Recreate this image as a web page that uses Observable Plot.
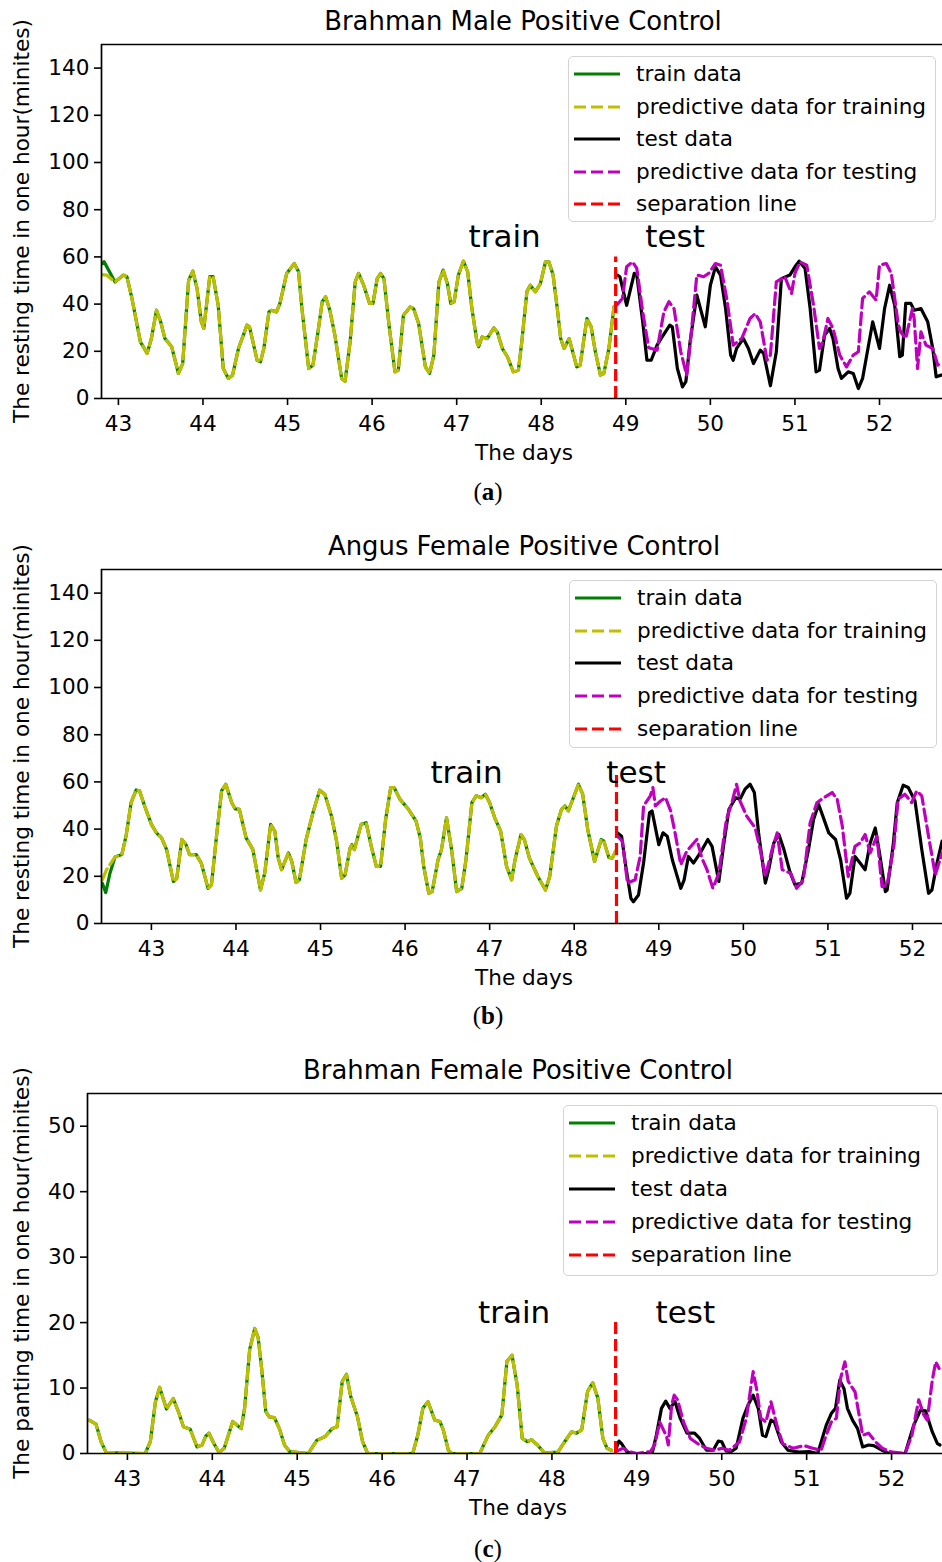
<!DOCTYPE html>
<html><head><meta charset="utf-8">
<script src="https://cdn.jsdelivr.net/npm/d3@7"></script>
<script src="https://cdn.jsdelivr.net/npm/@observablehq/plot@0.6"></script>
<style>
body{margin:0;background:#fff;}
#root{position:relative;width:942px;height:1562px;overflow:hidden;font-family:"DejaVu Sans",sans-serif;color:#000;background:#fff;}
.abs{position:absolute;white-space:nowrap;transform:translate(-50%,-50%);line-height:1;}
.title{font-size:25.9px;}
.xlab{font-size:21.6px;}
.ylab{font-size:21.6px;transform:translate(-50%,-50%) rotate(-90deg);}
.cap{font-family:"Liberation Serif",serif;font-size:25px;}
.legend{position:absolute;border:1.6px solid #d4d4d4;border-radius:5px;background:rgba(255,255,255,0.8);box-sizing:border-box;}
.row{position:absolute;left:0;white-space:nowrap;font-size:21.6px;line-height:1;}
.row svg{position:absolute;left:5px;top:-3px;overflow:visible;}
.row span{position:absolute;left:67px;top:0;transform:translateY(-50%);}
</style>
</head><body><div id="root"></div>
<script>
// ---------- Panel (a): Brahman Male Positive Control ----------
const aTrain = [[42.80,57],[42.83,58],[42.96,49.4],[43.06,52.3],[43.10,51.6],[43.16,42.4],[43.26,24],[43.34,19.1],[43.39,25.4],[43.45,37.4],[43.50,32.5],[43.55,25.4],[43.63,21.9],[43.71,10.6],[43.76,14.8],[43.83,50.1],[43.88,54],[43.93,46.6],[43.98,32.5],[44.01,29.7],[44.08,51.6],[44.12,51.6],[44.18,39.5],[44.24,12.7],[44.30,8.5],[44.35,9.9],[44.42,21.2],[44.52,31.1],[44.55,30.4],[44.64,16.2],[44.68,15.5],[44.72,21.2],[44.78,36.7],[44.81,37.4],[44.87,36.7],[44.91,40.3],[44.99,53],[45.08,57.2],[45.13,53.7],[45.17,38.1],[45.25,12.7],[45.30,14.1],[45.36,28.2],[45.41,41],[45.45,43.1],[45.50,37.4],[45.56,26.8],[45.64,8.5],[45.68,7.3],[45.74,24],[45.80,49.4],[45.84,53],[45.90,48],[45.97,40.3],[46.01,40.3],[46.06,50.8],[46.10,53],[46.14,50.8],[46.20,31.1],[46.27,11.3],[46.31,12],[46.37,35.3],[46.45,38.8],[46.49,38.1],[46.55,31.8],[46.63,13.4],[46.68,10.6],[46.73,18.4],[46.79,49.4],[46.84,54.4],[46.89,48.7],[46.93,40.3],[46.97,41],[47.02,52.3],[47.08,58.2],[47.13,53.7],[47.18,38.1],[47.24,24],[47.26,21.9],[47.30,26.1],[47.36,25.4],[47.44,29.9],[47.48,28.2],[47.54,21.2],[47.60,17.7],[47.67,11.3],[47.73,12],[47.77,24],[47.83,45.2],[47.87,48],[47.93,45.2],[47.99,48.7],[48.05,57.9],[48.09,57.9],[48.14,52.3],[48.19,38.1],[48.23,25.4],[48.27,21.2],[48.33,25.4],[48.42,13.4],[48.46,14.1],[48.54,33.9],[48.59,30.4],[48.64,19.8],[48.70,9.9],[48.74,10.6],[48.80,21.2],[48.86,38.8]];
const aPredTrainStart = [[42.80,52.5],[42.86,52.3]];
const aTest = [[48.90,52.3],[48.93,51.6],[49.01,39.5],[49.10,53],[49.13,52.3],[49.20,32.5],[49.25,16.2],[49.30,16.2],[49.37,22.6],[49.43,26.1],[49.52,31.1],[49.55,30.4],[49.61,12.7],[49.67,4.9],[49.71,7.1],[49.76,24],[49.84,43.8],[49.94,30.4],[50.00,48],[50.06,55.8],[50.12,52.3],[50.18,38.1],[50.24,18.4],[50.27,16.2],[50.31,21.2],[50.39,25.4],[50.45,21.2],[50.51,14.8],[50.59,20.5],[50.63,19.1],[50.71,5.4],[50.78,19.8],[50.84,50.8],[50.94,52.3],[51.00,55.8],[51.05,58.2],[51.12,55.1],[51.18,38.1],[51.25,11.3],[51.29,12],[51.35,26.8],[51.41,29.7],[51.45,25.4],[51.51,12.7],[51.55,8.5],[51.63,11.3],[51.69,10.6],[51.75,4.2],[51.80,8.5],[51.92,32.5],[52.00,21.2],[52.06,38.1],[52.12,48],[52.18,39.5],[52.24,17.7],[52.27,18.4],[52.31,40.3],[52.37,40.3],[52.41,37.4],[52.49,38.1],[52.57,32.5],[52.63,21.2],[52.67,9.2],[52.73,9.9]];
const aPredTest = [[48.89,39.5],[48.96,42.4],[49.01,55.8],[49.08,57.9],[49.13,55.1],[49.20,36.7],[49.27,21.5],[49.37,20.5],[49.45,36.7],[49.51,41],[49.57,38.1],[49.65,19.8],[49.72,9.9],[49.76,22.6],[49.84,52.3],[49.92,51.6],[49.98,53],[50.06,57.2],[50.12,56.5],[50.20,41],[50.27,22.6],[50.37,25.4],[50.47,33.9],[50.53,36],[50.59,32.5],[50.67,16.2],[50.71,18.4],[50.78,49.4],[50.88,51.6],[50.96,44.5],[51.00,53],[51.06,57.9],[51.14,56.5],[51.22,39.5],[51.29,21.2],[51.33,24],[51.39,33.9],[51.45,29.7],[51.53,18.4],[51.61,13.4],[51.69,18.4],[51.75,19.8],[51.80,42.4],[51.88,45.2],[51.96,41.7],[52.00,56.5],[52.08,57.2],[52.14,53],[52.22,31.8],[52.25,28.2],[52.31,25.4],[52.39,38.1],[52.41,33.9],[52.45,12.7],[52.49,28.2],[52.55,22.6],[52.63,21.2],[52.69,14.1],[52.73,15.5]];
const aSep = [{x:48.88, y1:0, y2:60}];
const aNotes = [{t:"train", x:47.14, y:64}, {t:"test", x:49.23, y:64}];
const aYTicks = [0,20,40,60,80,100,120,140];

// ---------- Panel (b): Angus Female Positive Control ----------
const bTrain = [[42.42,17],[42.46,13.1],[42.51,21.3],[42.57,28.2],[42.65,29.2],[42.70,37],[42.76,51.2],[42.82,56.6],[42.86,56.2],[42.92,49.8],[43.00,42],[43.06,38.4],[43.12,36.3],[43.18,31.3],[43.26,17.8],[43.30,19.2],[43.36,35.6],[43.41,33.4],[43.45,29.2],[43.53,29.2],[43.59,25.6],[43.67,14.9],[43.71,16.4],[43.77,37],[43.83,56.2],[43.88,59],[43.95,51.2],[43.99,48.6],[44.04,48.4],[44.12,36.3],[44.20,31.3],[44.29,14.2],[44.34,21.3],[44.41,42],[44.46,39.1],[44.50,27.7],[44.54,22.8],[44.62,29.9],[44.66,26.3],[44.71,17.4],[44.75,18.5],[44.83,35.6],[44.91,46.9],[44.99,56.5],[45.05,54.8],[45.13,45.5],[45.19,34.9],[45.25,19.2],[45.29,20.6],[45.35,32],[45.37,33.4],[45.40,31.3],[45.48,42],[45.54,42.7],[45.60,32.7],[45.66,24.2],[45.71,24.2],[45.77,44.1],[45.83,57.6],[45.87,57.6],[45.94,52.6],[46.04,48.4],[46.13,43.4],[46.18,36.3],[46.22,24.2],[46.28,12.8],[46.32,13.5],[46.39,27],[46.43,31.3],[46.49,44.8],[46.55,31.3],[46.61,13.5],[46.67,14.9],[46.72,27],[46.79,51.2],[46.84,54.1],[46.90,53.3],[46.95,54.8],[47.00,51.2],[47.06,44.8],[47.13,39.1],[47.20,24.2],[47.26,18.5],[47.30,27],[47.37,37.7],[47.41,35.6],[47.47,27.7],[47.57,19.9],[47.66,14.2],[47.71,19.9],[47.79,41.3],[47.85,48.4],[47.89,49.8],[47.93,47.7],[47.99,53.3],[48.05,59],[48.10,54.8],[48.16,39.8],[48.24,26.3],[48.32,35.6],[48.35,34.9],[48.41,28],[48.45,27.7],[48.49,30.6]];
const bPredTrainStart = [[42.42,18.5],[42.47,22.8]];
const bTest = [[48.51,38.4],[48.56,37],[48.61,24.2],[48.67,10.7],[48.70,9.2],[48.76,12.1],[48.82,25.6],[48.89,46.9],[48.92,47.7],[49.00,33.4],[49.05,38.4],[49.10,37],[49.16,27],[49.26,14.9],[49.30,18.5],[49.35,28.4],[49.41,25.6],[49.49,29.9],[49.58,35.6],[49.63,32.7],[49.71,17.8],[49.77,34.1],[49.83,48.4],[49.91,53.3],[49.96,52.6],[50.02,56.9],[50.08,59],[50.13,55.5],[50.18,38.4],[50.26,17.1],[50.30,22.8],[50.36,34.1],[50.42,37.7],[50.48,31.3],[50.55,22],[50.61,16.4],[50.69,17.1],[50.77,31.3],[50.83,44.1],[50.89,50.5],[50.94,45.5],[51.01,38.4],[51.09,35.6],[51.15,27],[51.22,10.7],[51.26,12.8],[51.32,28.4],[51.38,25.6],[51.44,22.8],[51.50,34.1],[51.56,40.5],[51.61,29.9],[51.68,13.5],[51.70,14.2],[51.77,32.7],[51.82,51.2],[51.89,58.6],[51.95,57.6],[52.03,51.9],[52.11,31.3],[52.19,12.8],[52.23,14.2],[52.29,25.6],[52.35,34.9]];
const bPredTest = [[48.51,37],[48.57,34.9],[48.63,17.1],[48.72,18.5],[48.78,28.4],[48.82,49.8],[48.90,54.1],[48.93,57.6],[48.96,49.8],[49.02,51.9],[49.08,53.3],[49.14,47.7],[49.20,37],[49.26,24.9],[49.33,30.6],[49.45,35.6],[49.51,27.7],[49.57,22.8],[49.64,14.9],[49.71,21.3],[49.80,44.1],[49.87,51.9],[49.92,59],[49.96,51.9],[50.04,45.5],[50.14,40.5],[50.20,31.3],[50.26,19.9],[50.34,31.3],[50.40,38.4],[50.46,22.8],[50.56,21.3],[50.63,14.9],[50.71,18.5],[50.79,42.7],[50.87,51.2],[50.95,53.3],[51.05,55.5],[51.11,52.6],[51.17,41.3],[51.24,19.9],[51.32,32.7],[51.38,34.1],[51.44,37.7],[51.50,29.9],[51.58,37],[51.64,15.6],[51.70,16.4],[51.78,32.7],[51.83,52.6],[51.91,54.8],[51.99,51.2],[52.05,56.2],[52.11,54.1],[52.19,37],[52.27,20.6],[52.35,29.9]];
const bSep = [{x:48.50, y1:0, y2:64}];
const bNotes = [{t:"train", x:46.30, y:59.5}, {t:"test", x:48.38, y:59.5}];
const bYTicks = [0,20,40,60,80,100,120,140];

// ---------- Panel (c): Brahman Female Positive Control ----------
const cTrain = [[42.55,5.1],[42.63,4.5],[42.69,1.8],[42.75,0.15],[43.21,0],[43.27,1.8],[43.33,7.9],[43.38,10.1],[43.46,6.8],[43.54,8.4],[43.60,6.4],[43.66,4.1],[43.74,3.7],[43.82,1],[43.88,1.3],[43.92,2.6],[43.96,3.1],[44.02,1.5],[44.08,0.15],[44.14,0.8],[44.24,4.9],[44.34,3.8],[44.38,6.9],[44.44,15.9],[44.50,19.1],[44.54,17.7],[44.58,13.1],[44.63,6.4],[44.67,5.6],[44.73,5.5],[44.79,3.8],[44.85,1.3],[44.91,0.3],[45.13,0],[45.23,2],[45.33,2.6],[45.41,3.8],[45.47,4.1],[45.53,11],[45.58,12.1],[45.63,8.7],[45.71,5.6],[45.77,1.8],[45.83,0],[46.36,0],[46.42,2.8],[46.48,6.9],[46.54,7.9],[46.62,5.1],[46.68,4.9],[46.72,3.6],[46.78,0.5],[46.82,0],[47.15,0],[47.25,2.8],[47.33,4.1],[47.41,5.9],[47.47,14.1],[47.53,15],[47.59,10.5],[47.65,2.3],[47.71,1.8],[47.76,2.1],[47.83,1.3],[47.91,0.1],[48.07,0.2],[48.15,1.8],[48.23,3.3],[48.29,3.1],[48.35,3.6],[48.42,9.5],[48.48,10.8],[48.54,8.5],[48.60,2.3],[48.65,0.8],[48.70,0.5]];
const cTest = [[48.75,0.5],[48.79,1.9],[48.82,1.5],[48.88,0.3],[48.94,0],[49.18,0],[49.23,2.8],[49.29,6.9],[49.34,8],[49.39,6.9],[49.45,7.9],[49.51,5.4],[49.59,3.1],[49.68,3.1],[49.74,2.3],[49.82,0.5],[49.90,0.5],[49.96,1.9],[50.00,1.8],[50.05,0.4],[50.11,0.3],[50.17,0.8],[50.25,5.4],[50.31,7.4],[50.37,8.9],[50.43,6.9],[50.48,2.8],[50.52,2.6],[50.58,5.1],[50.62,4.8],[50.70,1.8],[50.78,0.5],[50.91,0.2],[51.03,0.3],[51.13,0],[51.23,4.3],[51.29,6.1],[51.34,6.9],[51.39,11.2],[51.44,9.9],[51.48,6.9],[51.54,5.1],[51.60,3.8],[51.66,1],[51.73,1.3],[51.79,1.2],[51.89,0.5],[51.97,0],[52.16,0],[52.26,4.3],[52.34,6.6],[52.40,6.5],[52.48,3.3],[52.54,1.5],[52.57,1.3]];
const cPredTest = [[48.75,0.3],[48.84,0.8],[48.90,0.3],[49.00,0],[49.16,0.3],[49.21,1.3],[49.27,4.8],[49.35,2.6],[49.37,1.3],[49.41,7.4],[49.44,8.9],[49.48,8.2],[49.55,4.8],[49.63,2.3],[49.74,1.3],[49.82,0.8],[49.92,0.5],[50.00,0.8],[50.09,0.5],[50.21,1.8],[50.29,5.4],[50.34,9.9],[50.37,12.5],[50.41,9.9],[50.46,5.4],[50.52,4.8],[50.58,7.9],[50.66,3.8],[50.72,1.5],[50.84,0.8],[50.97,1.2],[51.07,0.8],[51.17,0.5],[51.23,2.8],[51.29,4.8],[51.35,5.4],[51.40,11.5],[51.45,14],[51.49,11],[51.57,9.4],[51.66,2.8],[51.73,3.1],[51.81,1.8],[51.89,0.8],[52.01,0.2],[52.16,0],[52.24,2.8],[52.32,8.2],[52.38,5.9],[52.42,5.1],[52.48,11.2],[52.52,14],[52.56,13]];
const cSep = [{x:48.75, y1:0, y2:20}];
const cNotes = [{t:"train", x:47.13, y:20}, {t:"test", x:49.22, y:20}];
const cYTicks = [0,10,20,30,40,50];

const xTicks = [43,44,45,46,47,48,49,50,51,52];
const legendLabels = ["train data","predictive data for training","test data","predictive data for testing","separation line"];

// the predicted training curves coincide with the training data after the first points
const aPredTrain = aPredTrainStart.concat(aTrain.slice(2));
const bPredTrain = bPredTrainStart.concat(bTrain.slice(3));
const cPredTrain = cTrain;

const panels = [
  {title:"Brahman Male Positive Control", ylabel:"The resting time in one hour(minites)", cap:"a",
   train:aTrain, predTrain:aPredTrain, test:aTest, predTest:aPredTest, sep:aSep, notes:aNotes,
   xDomain:[42.80,52.745], yDomain:[0,150], yTicks:aYTicks, ml:101, plotTop:44, plotH:354,
   titleXY:[523,22], xlabXY:[524,453], ylabXY:[22,221], capXY:[488,491],
   legend:{left:568,top:56,w:368,h:166,gap:32.5}},
  {title:"Angus Female Positive Control", ylabel:"The resting time in one hour(minites)", cap:"b",
   train:bTrain, predTrain:bPredTrain, test:bTest, predTest:bPredTest, sep:bSep, notes:bNotes,
   xDomain:[42.41,52.355], yDomain:[0,150], yTicks:bYTicks, ml:101, plotTop:569, plotH:354,
   titleXY:[524,547], xlabXY:[524,978], ylabXY:[22,746], capXY:[488,1015],
   legend:{left:569,top:580,w:368,h:168,gap:32.7}},
  {title:"Brahman Female Positive Control", ylabel:"The panting time in one hour(minites)", cap:"c",
   train:cTrain, predTrain:cPredTrain, test:cTest, predTest:cPredTest, sep:cSep, notes:cNotes,
   xDomain:[42.53,52.6], yDomain:[0,55], yTicks:cYTicks, ml:87, plotTop:1093, plotH:360,
   titleXY:[518,1071], xlabXY:[518,1508], ylabXY:[22,1273], capXY:[488,1548],
   legend:{left:563,top:1105,w:375,h:171,gap:33}}
];

const root = document.getElementById("root");
const LW = 3.2, DASH = "12,5";
const legendStyles = [
  {stroke:"#008000", dash:null},
  {stroke:"#bfbf00", dash:DASH},
  {stroke:"#000000", dash:null},
  {stroke:"#bf00bf", dash:DASH},
  {stroke:"#ff0000", dash:DASH}
];

function addText(cls, xy, html){
  const d = document.createElement("div");
  d.className = "abs " + cls;
  d.style.left = xy[0] + "px";
  d.style.top = xy[1] + "px";
  d.innerHTML = html;
  root.appendChild(d);
}

const px = d => d[0], py = d => d[1];
const MT = 6, MB = 50;

for (const p of panels) {
  const chart = Plot.plot({
    width: 942,
    height: p.plotH + MT + MB,
    marginTop: MT, marginBottom: MB, marginLeft: p.ml, marginRight: 0,
    x: {domain: p.xDomain},
    y: {domain: p.yDomain},
    style: {fontFamily: "DejaVu Sans", fontSize: "21.6px", color: "#000", background: "transparent", overflow: "visible"},
    marks: [
      Plot.line(p.train, {x: px, y: py, stroke: "#008000", strokeWidth: LW, clip: true}),
      Plot.line(p.predTrain, {x: px, y: py, stroke: "#bfbf00", strokeWidth: LW, strokeDasharray: DASH, clip: true}),
      Plot.line(p.test, {x: px, y: py, stroke: "#000000", strokeWidth: LW, clip: true}),
      Plot.line(p.predTest, {x: px, y: py, stroke: "#bf00bf", strokeWidth: LW, strokeDasharray: DASH, clip: true}),
      Plot.ruleX(p.sep, {x: "x", y1: "y1", y2: "y2", stroke: "#ff0000", strokeWidth: LW, strokeDasharray: DASH}),
      Plot.text(p.notes, {x: "x", y: "y", text: "t", textAnchor: "start", lineAnchor: "bottom", fontSize: 31, fill: "#000"}),
      Plot.axisX({ticks: xTicks, tickSize: 7, tickPadding: 10, tickFormat: d3.format("d"), label: null, strokeWidth: 1.6}),
      Plot.axisY({ticks: p.yTicks, tickSize: 7, tickPadding: 5, tickFormat: d3.format("d"), label: null, strokeWidth: 1.6}),
      Plot.ruleY([p.yDomain[0], p.yDomain[1]], {stroke: "#000", strokeWidth: 1.7}),
      Plot.ruleX([p.xDomain[0]], {stroke: "#000", strokeWidth: 1.7})
    ]
  });
  chart.style.position = "absolute";
  chart.style.left = "0px";
  chart.style.top = (p.plotTop - MT) + "px";
  root.appendChild(chart);

  addText("title", p.titleXY, p.title);
  addText("xlab", p.xlabXY, "The days");
  addText("ylab", p.ylabXY, p.ylabel);
  addText("cap", p.capXY, "(<b>" + p.cap + "</b>)");

  const lg = document.createElement("div");
  lg.className = "legend";
  lg.style.left = p.legend.left + "px";
  lg.style.top = p.legend.top + "px";
  lg.style.width = p.legend.w + "px";
  lg.style.height = p.legend.h + "px";
  legendLabels.forEach((lab, i) => {
    const r = document.createElement("div");
    r.className = "row";
    r.style.top = (17 + i * p.legend.gap) + "px";
    const s = legendStyles[i];
    r.innerHTML = `<svg width="46" height="6"><line x1="0" y1="3" x2="46" y2="3" stroke="${s.stroke}" stroke-width="${LW}"${s.dash ? ` stroke-dasharray="${s.dash}"` : ""}/></svg><span>${lab}</span>`;
    lg.appendChild(r);
  });
  root.appendChild(lg);
}
</script>
</body></html>
